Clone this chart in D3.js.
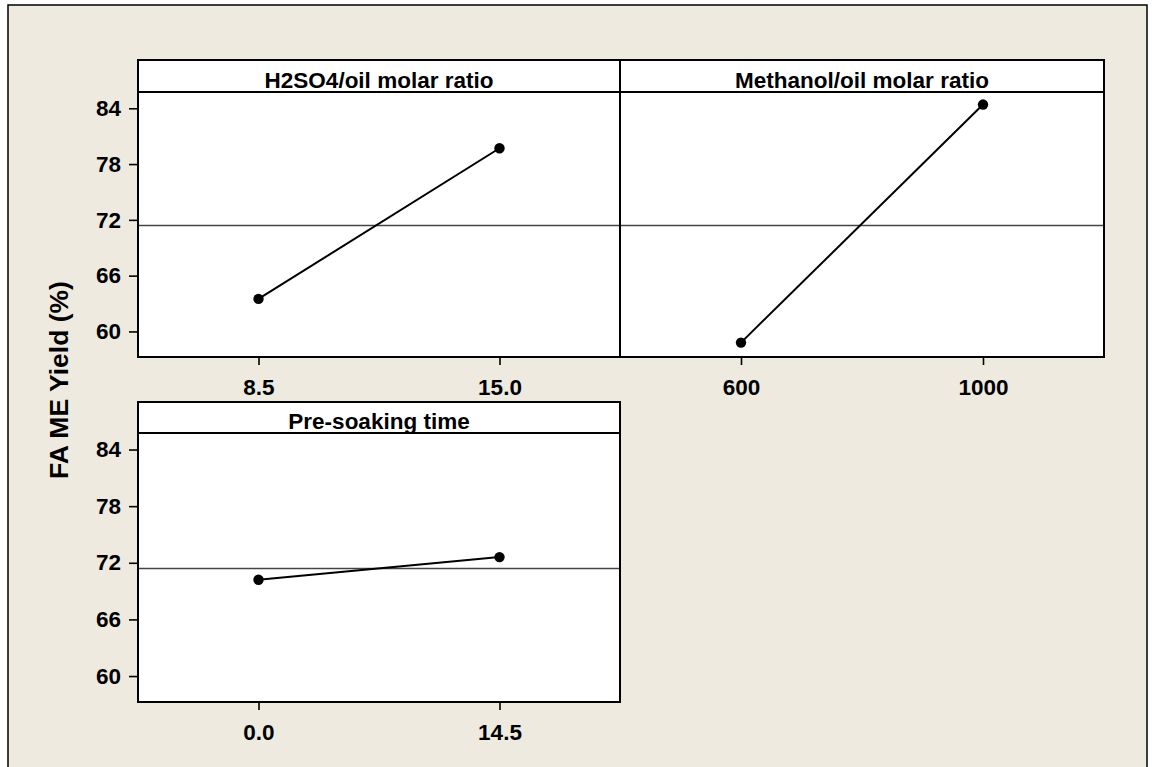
<!DOCTYPE html>
<html>
<head>
<meta charset="utf-8">
<script src="https://cdn.jsdelivr.net/npm/d3@7"></script>
<style>
  html, body { margin: 0; padding: 0; background: #ffffff; }
  svg text { font-family: "Liberation Sans", Arial, sans-serif; font-weight: bold; fill: #000; }
</style>
</head>
<body>
<svg id="chart" width="1153" height="767"></svg>
<script>
// Main effects for FAME yield: mean response at the low and high level of each factor
const factors = ["H2SO4/oil molar ratio", "Methanol/oil molar ratio", "Pre-soaking time"];
const levels = [[8.5, 15.0], [600, 1000], [0.0, 14.5]];
const levelLabels = [["8.5", "15.0"], ["600", "1000"], ["0.0", "14.5"]];
const meanYield = [[63.5, 79.7], [58.8, 84.4], [70.2, 72.6]];
const grandMean = 71.4;
const yTicks = [60, 66, 72, 78, 84];
const yDomain = [57.25, 85.75];
const yTitle = "FA ME Yield (%)";

const svg = d3.select("#chart");

// Outer beige frame
svg.append("rect")
  .attr("x", 8).attr("y", 5).attr("width", 1139).attr("height", 800)
  .attr("fill", "#eeeae0").attr("stroke", "#000").attr("stroke-width", 1.5);

// Panel grid: two columns, two rows
const cols = [[138, 620], [620, 1104]];
const rows = [
  { stripTop: 60, plotTop: 92, plotBottom: 357 },
  { stripTop: 402, plotTop: 433, plotBottom: 702 }
];
const cells = [[0, 0], [0, 1], [1, 0]]; // [row, col] for each factor

factors.forEach((name, i) => {
  const [r, c] = cells[i];
  const [x0, x1] = cols[c];
  const row = rows[r];
  const lv = levels[i];
  const span = lv[1] - lv[0];

  const x = d3.scaleLinear().domain([lv[0] - span / 2, lv[1] + span / 2]).range([x0, x1]);
  const y = d3.scaleLinear().domain(yDomain).range([row.plotBottom, row.plotTop]);

  const g = svg.append("g");

  // plot area
  g.append("rect")
    .attr("x", x0).attr("y", row.plotTop)
    .attr("width", x1 - x0).attr("height", row.plotBottom - row.plotTop)
    .attr("fill", "#fff");

  // strip with factor name
  g.append("rect")
    .attr("x", x0).attr("y", row.stripTop)
    .attr("width", x1 - x0).attr("height", row.plotTop - row.stripTop)
    .attr("fill", "#fff").attr("stroke", "#000").attr("stroke-width", 2);
  g.append("text")
    .attr("x", (x0 + x1) / 2).attr("y", row.plotTop - 4.5)
    .attr("text-anchor", "middle").attr("font-size", 22.5)
    .text(name);

  // grand mean reference line
  g.append("line")
    .attr("x1", x0).attr("x2", x1)
    .attr("y1", y(grandMean)).attr("y2", y(grandMean))
    .attr("stroke", "#444").attr("stroke-width", 1.6);

  // mean line and points
  const pts = lv.map((v, k) => [v, meanYield[i][k]]);
  g.append("path")
    .datum(pts)
    .attr("d", d3.line().x(d => x(d[0])).y(d => y(d[1])))
    .attr("fill", "none").attr("stroke", "#000").attr("stroke-width", 2);
  g.selectAll("circle").data(pts).join("circle")
    .attr("cx", d => x(d[0])).attr("cy", d => y(d[1]))
    .attr("r", 5.2).attr("fill", "#000");

  // panel border
  g.append("rect")
    .attr("x", x0).attr("y", row.plotTop)
    .attr("width", x1 - x0).attr("height", row.plotBottom - row.plotTop)
    .attr("fill", "none").attr("stroke", "#000").attr("stroke-width", 2);

  // x axis at the two factor levels
  const xAxis = d3.axisBottom(x)
    .tickValues(lv)
    .tickFormat((d, k) => levelLabels[i][k])
    .tickSize(8).tickPadding(14);
  const xa = g.append("g").attr("transform", `translate(0,${row.plotBottom})`).call(xAxis);
  xa.select(".domain").remove();
  xa.selectAll(".tick line").attr("stroke", "#000").attr("stroke-width", 1.6);
  xa.selectAll(".tick text").attr("font-size", 22.5).attr("font-family", null).attr("fill", "#000");

  // y axis on the left column only
  if (c === 0) {
    const yAxis = d3.axisLeft(y).tickValues(yTicks).tickFormat(d3.format("d"))
      .tickSize(9).tickPadding(8);
    const ya = g.append("g").attr("transform", `translate(${x0},0)`).call(yAxis);
    ya.select(".domain").remove();
    ya.selectAll(".tick line").attr("stroke", "#000").attr("stroke-width", 1.6);
    ya.selectAll(".tick text").attr("font-size", 22.5).attr("font-family", null).attr("fill", "#000");
  }
});

// y axis title
svg.append("text")
  .attr("transform", "translate(68,380) rotate(-90)")
  .attr("text-anchor", "middle").attr("font-size", 26.5)
  .text(yTitle);
</script>
</body>
</html>
